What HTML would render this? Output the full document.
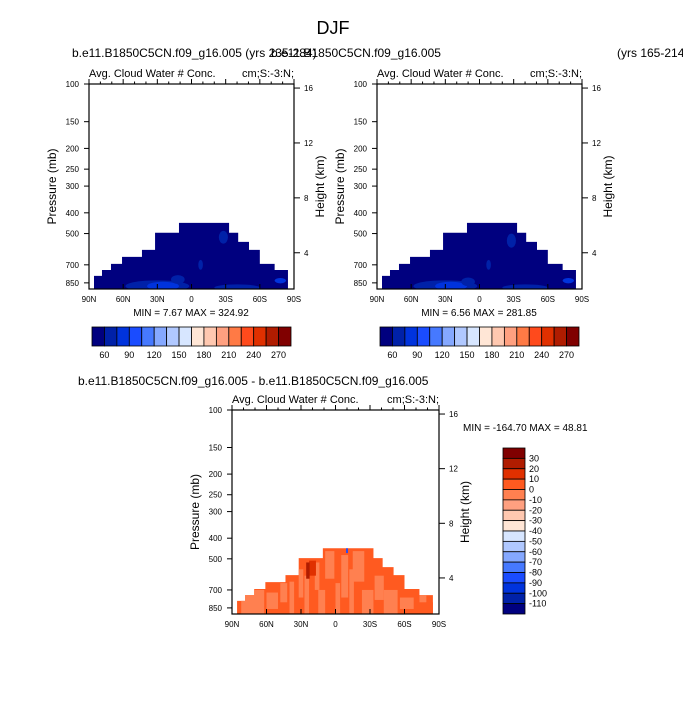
<!DOCTYPE html>
<html><head><meta charset="utf-8">
<style>
html,body{margin:0;padding:0;background:#fff;}
svg{display:block;font-family:"Liberation Sans",Arial,sans-serif;}
</style></head>
<body>
<svg id="fig" width="683" height="703" viewBox="0 0 683 703" xmlns="http://www.w3.org/2000/svg">
<text x="333" y="34" font-size="18" text-anchor="middle">DJF</text>
<text x="72" y="57" font-size="12">b.e11.B1850C5CN.f09_g16.005 (yrs 235-284)</text>
<text x="271" y="57" font-size="12">b.e11.B1850C5CN.f09_g16.005</text>
<text x="617" y="57" font-size="12">(yrs 165-214</text>
<text x="78" y="385" font-size="12">b.e11.B1850C5CN.f09_g16.005 - b.e11.B1850C5CN.f09_g16.005</text>
<g id="layer"></g>
</svg>
<script>
// ---- data ----
const latTicks = [90, 60, 30, 0, -30, -60, -90];
const latTickLabels = ["90N","60N","30N","0","30S","60S","90S"];
const presTicks = [100,150,200,250,300,400,500,700,850];
const heightTicks = [16,12,8,4];
const maskLatEdges = [85.6,78.6,70.7,61,43.5,32,11,-33,-41,-50.5,-60,-73,-84.7];
const maskTopPres = [788,740,693,643,596,496,446,496,547,596,693,740];
const absLevels = [60,75,90,105,120,135,150,165,180,195,210,225,240,255,270];
const absLabels = [60,90,120,150,180,210,240,270];
const diffLevels = [30,20,10,0,-10,-20,-30,-40,-50,-60,-70,-80,-90,-100,-110];
// blobs: [lat, pressure, latHalfWidth, presSpan, colorIndex]
const blobsA = [[30,880,28,120,1],[25,880,14,70,2],[-40,895,20,60,1],[12,820,6,60,1],[-78,830,5,30,2],[-28,520,4,60,1],[-8,700,2,60,1]];
const blobsB = [[30,880,28,120,1],[25,880,14,70,2],[-40,895,20,60,1],[10,840,6,60,1],[-78,830,5,30,2],[-28,540,4,70,1],[-8,700,2,60,1]];
// diff stripes: [lat, pTop, pBottom, latHalfWidth, colorIndex(0..15 top->bottom)]
const diffStripes = [[72,700,908,10,4],[55,720,860,5,4],[45,650,800,3,4],[38,640,900,2,4],[30,560,760,2,4],[25,600,908,2,4],[16,520,700,2,4],[12,700,908,3,4],[5,460,620,4,4],[-2,650,908,2,4],[-8,480,760,3,4],[-14,560,900,2,4],[-20,460,640,5,4],[-28,700,908,5,4],[-38,600,780,4,4],[-48,700,908,6,4],[-62,760,860,6,4],[-76,700,800,3,4],[20,510,600,3,2],[24,520,620,1.5,1],[-82,800,908,3,3]];
const diffBlue = [[-10,445,470,0.8,12]];

const absColors = ["#00007f","#0021a8","#0033dd","#1a4cff","#4679ff","#85a8ff","#b0c8ff","#d7e6ff","#ffe6d6","#ffc8b0","#ffa080","#ff7a45","#ff4a1c","#e03000","#b01c00","#800000"];
const diffColors = ["#800000","#b01c00","#e03000","#ff5a20","#ff8050","#ffa080","#ffc8b0","#ffe6d6","#d7e6ff","#b0c8ff","#85a8ff","#4679ff","#1a4cff","#0033dd","#0021a8","#00007f"];

const NS = "http://www.w3.org/2000/svg";
const layer = document.getElementById('layer');
function mk(tag, attrs, parent){const e=document.createElementNS(NS,tag);for(const k in attrs)e.setAttribute(k,attrs[k]);(parent||layer).appendChild(e);return e;}

function panel(x0,y0,w,h,kind,blobs,name){
  const g = mk('g',{});
  
  
  const pTop=100, pBot=908;
  const X = lat => x0 + (90-lat)/180*w;
  const Y = p => y0 + Math.log(p/pTop)/Math.log(pBot/pTop)*h;
  const clipId = 'clip'+name;
  const cp = mk('clipPath',{id:clipId},g);
  let d = 'M'+X(maskLatEdges[0])+','+(y0+h);
  for(let i=0;i<maskTopPres.length;i++){
    d += ' L'+X(maskLatEdges[i])+','+Y(maskTopPres[i])+' L'+X(maskLatEdges[i+1])+','+Y(maskTopPres[i]);
  }
  d += ' L'+X(maskLatEdges[maskLatEdges.length-1])+','+(y0+h)+' Z';
  mk('path',{d:d},cp);
  const data = mk('g',{'clip-path':'url(#'+clipId+')'},g);
  const base = mk('rect',{x:x0,y:y0,width:w,height:h,fill: kind==='abs'?absColors[0]:diffColors[3]},data);
  
  
  if(kind==='abs'){
    blobs.forEach(b=>{
      const cx=X(b[0]), cy=Y(b[1]);
      const rx=Math.abs(X(b[0]-b[2])-cx), ry=Math.abs(Y(Math.min(pBot,b[1]+b[3]/2))-Y(b[1]-b[3]/2))/2+1;
      const e = mk('ellipse',{cx:cx,cy:cy,rx:rx,ry:ry,fill:absColors[b[4]]},data);
      
      
    });
  } else {
    blobs.forEach(b=>{
      const xa=X(b[0]+b[3]), xb=X(b[0]-b[3]);
      const r = mk('rect',{x:xa,y:Y(b[1]),width:xb-xa,height:Y(b[2])-Y(b[1]),fill:diffColors[b[4]]},data);
      
      
    });
  }
  mk('rect',{x:x0,y:y0,width:w,height:h,fill:'none',stroke:'#000','stroke-width':1.2},g);
  latTicks.forEach((lt,i)=>{
    const x=X(lt);
    mk('line',{x1:x,y1:y0,x2:x,y2:y0-5,stroke:'#000'},g);
    mk('line',{x1:x,y1:y0+h,x2:x,y2:y0+h-5,stroke:'#000'},g);
    const t=mk('text',{x:x,y:y0+h+13,'font-size':8,'text-anchor':'middle'},g);
    t.textContent=latTickLabels[i];
    
    
  });
  for(let lt=80;lt>-90;lt-=10){ if(lt%30!==0){const x=X(lt);mk('line',{x1:x,y1:y0,x2:x,y2:y0-2.5,stroke:'#000'},g);}}
  presTicks.forEach(p=>{
    const y=Y(p);
    mk('line',{x1:x0,y1:y,x2:x0-5,y2:y,stroke:'#000'},g);
    const t=mk('text',{x:x0-10,y:y+3,'font-size':8,'text-anchor':'end'},g);
    t.textContent=p;
    
    
  });
  heightTicks.forEach(z=>{
    const p=1110*Math.exp(-z/6.77);
    const y=Y(p);
    mk('line',{x1:x0+w,y1:y,x2:x0+w+6,y2:y,stroke:'#000'},g);
    const t=mk('text',{x:x0+w+10,y:y+3,'font-size':8},g);
    t.textContent=z;
    
    
  });
  const lt=mk('text',{x:x0,y:y0-7,'font-size':11},g); lt.textContent='Avg. Cloud Water # Conc.';
   
  const rt=mk('text',{x:x0+w,y:y0-7,'font-size':11,'text-anchor':'end'},g); rt.textContent='cm;S:-3:N;';
   
  const yl=mk('text',{x:0,y:0,'font-size':12,'text-anchor':'middle',transform:'translate('+(x0-33)+','+(y0+h/2)+') rotate(-90)'},g);
  yl.textContent='Pressure (mb)';  
  const yr=mk('text',{x:0,y:0,'font-size':12,'text-anchor':'middle',transform:'translate('+(x0+w+30)+','+(y0+h/2)+') rotate(-90)'},g);
  yr.textContent='Height (km)';  
}
panel(89,84,205,205,'abs',blobsA,'panel-left');
panel(377,84,205,205,'abs',blobsB,'panel-right');
panel(232,410,207,204,'diff',diffStripes.concat(diffBlue),'panel-diff');

function minmax(x,y,txt,anchor){const t=mk('text',{x:x,y:y,'font-size':10,'text-anchor':anchor});t.textContent=txt;}
minmax(191,316,'MIN =   7.67  MAX = 324.92','middle');
minmax(479,316,'MIN =   6.56  MAX = 281.85','middle');
minmax(463,431,'MIN = -164.70  MAX =  48.81','start');

function hbar(x0,y0,w,h,name){
  const g=mk('g',{});  
  const n=absColors.length, bw=w/n;
  absColors.forEach((c,i)=>{const r=mk('rect',{x:x0+i*bw,y:y0,width:bw,height:h,fill:c,stroke:'#000','stroke-width':0.8},g);});
  absLabels.forEach(v=>{const i=absLevels.indexOf(v)+1;const t=mk('text',{x:x0+i*bw,y:y0+h+12,'font-size':9,'text-anchor':'middle'},g);t.textContent=v;});
}
hbar(92,327,199,19,'colorbar-left');
hbar(380,327,199,19,'colorbar-right');
(function(){
  const g=mk('g',{});  
  const x0=503,y0=448,w=22,h=166,n=diffColors.length,bh=h/n;
  diffColors.forEach((c,i)=>{const r=mk('rect',{x:x0,y:y0+i*bh,width:w,height:bh,fill:c,stroke:'#000','stroke-width':0.8},g);});
  diffLevels.forEach((v,i)=>{const t=mk('text',{x:x0+w+4,y:y0+(i+1)*bh+3,'font-size':9},g);t.textContent=v;});
})();
</script>
</body></html>
